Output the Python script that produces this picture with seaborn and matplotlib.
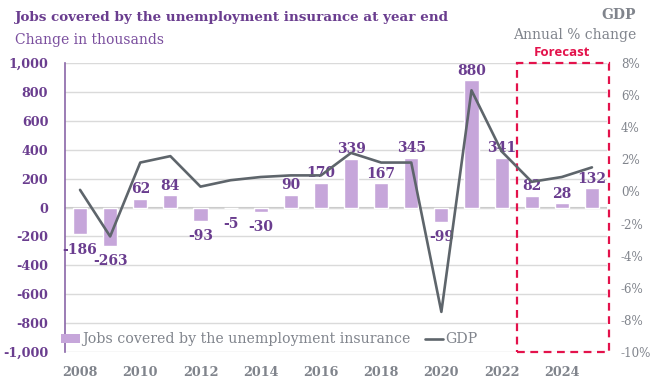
import numpy as np
import pandas as pd
import matplotlib
matplotlib.use("Agg")
import matplotlib.pyplot as plt
from matplotlib.patches import Rectangle, Patch
from matplotlib.lines import Line2D
import seaborn as sns

# Data
years = list(range(2008, 2026))
jobs_change = [-186, -263, 62, 84, -93, -5, -30, 90, 170, 339, 167, 345, -99, 880, 341, 82, 28, 132]
gdp_change = [0.1, -2.8, 1.8, 2.2, 0.3, 0.7, 0.9, 1.0, 1.0, 2.4, 1.8, 1.8, -7.5, 6.3, 2.5, 0.6, 0.9, 1.5]
left_ticks = list(range(-1000, 1001, 200))
right_ticks = list(range(-10, 9, 2))
forecast_start = 2023

PURPLE = "#6A3D8F"
BAR = "#C6A6DA"
GREY = "#80848C"
LINE = "#5E656B"
RED = "#E3124B"

sns.set_theme(style="white")
plt.rcParams["font.family"] = ["DejaVu Serif"]

df = pd.DataFrame({"year": [str(y) for y in years], "jobs": jobs_change,
                   "gdp": gdp_change, "pos": np.arange(len(years))})

fig = plt.figure(figsize=(6.55, 3.83), dpi=100)
ax = fig.add_axes([0.0992, 0.0809, 0.8275, 0.7546])

sns.barplot(data=df, x="year", y="jobs", color=BAR, saturation=1, width=0.47, ax=ax)
ax.set_xlim(-0.5, len(years) - 0.5)
ax.set_ylim(-1000, 1000)
ax.set_yticks(left_ticks)
ax.set_yticklabels([f"{v:,}" for v in left_ticks])
ax.yaxis.grid(True, color="#DADADA", linewidth=1)
ax.set_axisbelow(True)
ax.axhline(0, color="#C8C8C8", linewidth=1.5, zorder=0.5)
for s in ["top", "right", "bottom"]:
    ax.spines[s].set_visible(False)
ax.spines["left"].set_color("#8A66A8")
ax.spines["left"].set_linewidth(1.2)
ax.tick_params(axis="y", length=0, labelsize=9.2, labelcolor=PURPLE, pad=12)
for t in ax.get_yticklabels():
    t.set_fontweight("bold")
ax.set_xticks(np.arange(0, len(years), 2))
ax.set_xticklabels([str(y) for y in years[::2]])
ax.tick_params(axis="x", length=0, labelsize=9.2, labelcolor=GREY, pad=10)
for t in ax.get_xticklabels():
    t.set_fontweight("bold")
ax.set_xlabel("")
ax.set_ylabel("")

# Value labels: above positive bars, a little further below negative bars
bars = ax.containers[0]
ax.bar_label(bars, labels=[f"{v:d}" if v >= 0 else "" for v in jobs_change],
             padding=2, fontsize=10, fontweight="bold", color=PURPLE)
ax.bar_label(bars, labels=[f"{v:d}" if v < 0 else "" for v in jobs_change],
             padding=6, fontsize=10, fontweight="bold", color=PURPLE)

ax2 = ax.twinx()
sns.lineplot(data=df, x="pos", y="gdp", color=LINE, linewidth=1.9, ax=ax2)
ax2.set_ylim(-10, 8)
ax2.set_yticks(right_ticks)
ax2.set_yticklabels([f"{v}%" for v in right_ticks])
ax2.tick_params(axis="y", length=0, labelsize=8.6, labelcolor=GREY, pad=10)
ax2.set_xlim(-0.5, len(years) - 0.5)
ax2.set_xlabel("")
ax2.set_ylabel("")
for s in ax2.spines.values():
    s.set_visible(False)

# Forecast region
fi = years.index(forecast_start)
box = Rectangle((fi - 0.5, -1000), len(years) - fi + 0.07, 2000, fill=False,
                edgecolor=RED, linestyle=(0, (3.5, 2.5)), linewidth=1.6,
                clip_on=False, zorder=5)
ax.add_patch(box)
ax.text(fi + 1.0, 1030, "Forecast", ha="center", va="bottom", color=RED,
        fontsize=9.5, fontweight="bold", family=["Open Sans"])

# Legend
handles = [Patch(facecolor=BAR, edgecolor="none"),
           Line2D([0], [0], color=LINE, linewidth=1.9)]
ax.legend(handles, ["Jobs covered by the unemployment insurance", "GDP"],
          loc="lower left", bbox_to_anchor=(-0.03, -0.025), ncol=2, frameon=False,
          fontsize=10.2, labelcolor=GREY, handlelength=1.3, handletextpad=0.15,
          columnspacing=1.0)

# Titles
fig.text(15 / 655, 1 - 18 / 383, "Jobs covered by the unemployment insurance at year end",
         ha="left", va="center", fontsize=9.7, fontweight="bold", color=PURPLE)
fig.text(15 / 655, 1 - 40 / 383, "Change in thousands", ha="left", va="center",
         fontsize=10, color="#7A4E9E")
fig.text(636 / 655, 1 - 15 / 383, "GDP", ha="right", va="center",
         fontsize=10, fontweight="bold", color=GREY)
fig.text(636 / 655, 1 - 35 / 383, "Annual % change", ha="right", va="center",
         fontsize=10, color=GREY)

fig.savefig("out.png", dpi=100)
